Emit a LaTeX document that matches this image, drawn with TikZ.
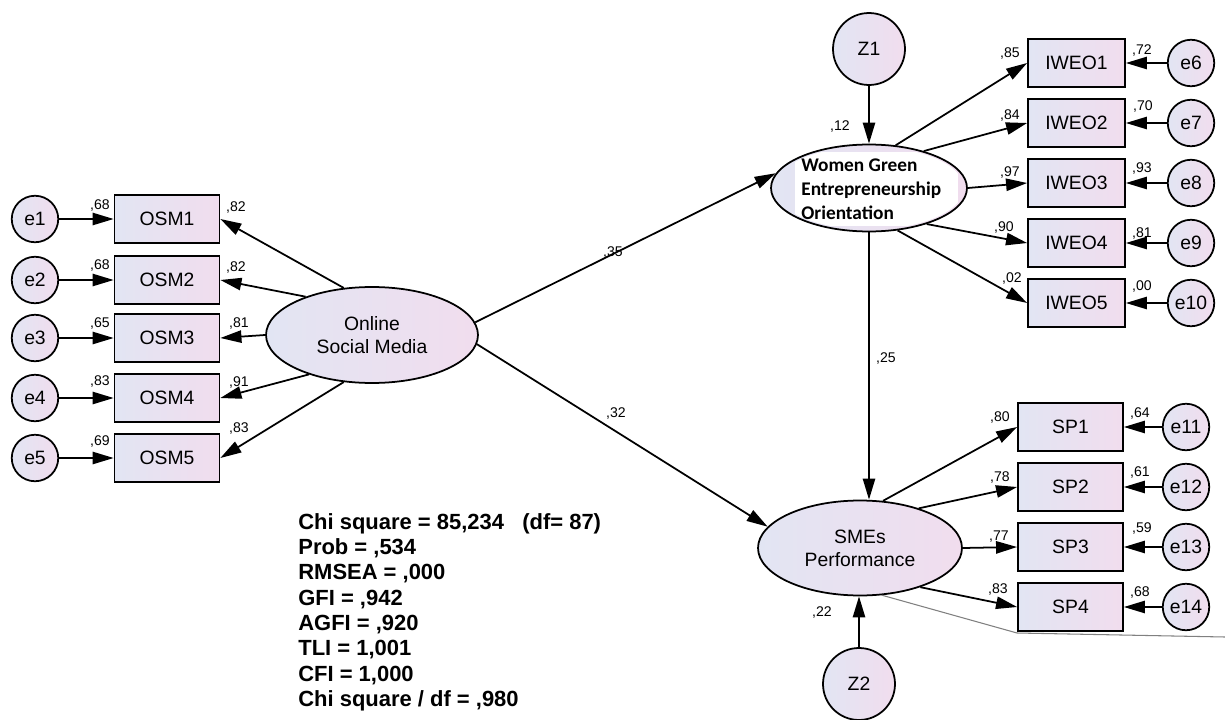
\documentclass[tikz,border=0pt]{standalone}
\usepackage{fontspec}
\setmainfont{Liberation Sans}
\newfontfamily\calib{Carlito}
\usetikzlibrary{shapes.geometric,arrows.meta}
\definecolor{fa}{RGB}{226,229,243}
\definecolor{fb}{RGB}{241,221,238}
\begin{document}
\begin{tikzpicture}[x=0.02cm,y=-0.02cm,
  base/.style={draw=black,line width=1pt,left color=fa,right color=fb,font=\fontsize{11}{13}\selectfont,inner sep=0pt,align=center},
  obs/.style={base,rectangle,minimum width=2.1cm,minimum height=0.95cm},
  iobs/.style={obs,minimum width=1.94cm},
  err/.style={base,circle,minimum size=0.93cm},
  dist/.style={base,circle,minimum size=1.44cm},
  lat/.style={base,ellipse},
  coef/.style={font=\fontsize{8}{9}\selectfont,inner sep=0pt},
  arr/.style={line width=1pt,-{Triangle[length=12pt,width=7pt]}},
]
\useasboundingbox (0,0) rectangle (1225,720);
\fill[white] (0,0) rectangle (1225,720);

% left block
\foreach \i/\y in {1/219,2/280,3/338,4/398,5/458}{
  \node[err] (e\i) at (35,\y) {e\i};
  \node[obs] (o\i) at (167,\y) {OSM\i};
}
\node[lat,minimum width=4.24cm,minimum height=1.92cm] (osm) at (372,335) {Online\\Social Media};

% WGEO
\node[lat,minimum width=3.92cm,minimum height=1.74cm] (wgeo) at (869,188) {};
\begin{scope}
  \clip (869,188) ellipse [x radius=1.9cm, y radius=0.83cm];
  \fill[white] (795,152) rectangle (958,226);
\end{scope}
\node[anchor=west,align=left,inner sep=0pt,font=\calib\bfseries\fontsize{11}{13.6}\selectfont] (wgeot) at (801,189) {Women Green\\Entrepreneurship\\Orientation};
\node[dist] (z1) at (869,49) {Z1};

\foreach \i/\y in {1/63,2/123,3/183,4/243,5/303}{
  \node[iobs] (w\i) at (1076.5,\y) {IWEO\i};
}
\node[err] (e6) at (1191,63) {e6};
\node[err] (e7) at (1191,123) {e7};
\node[err] (e8) at (1191,183) {e8};
\node[err] (e9) at (1191,243) {e9};
\node[err] (e10) at (1191,303) {e10};

% SMEs
\node[lat,minimum width=4.08cm,minimum height=1.9cm] (smes) at (860,548) {SMEs\\Performance};
\node[dist] (z2) at (859,684) {Z2};
\foreach \i/\y in {1/427,2/487,3/547,4/607}{
  \node[obs,minimum height=0.96cm] (s\i) at (1070.5,\y) {SP\i};
}
\node[err] (e11) at (1186,427) {e11};
\node[err] (e12) at (1186,487) {e12};
\node[err] (e13) at (1186,547) {e13};
\node[err] (e14) at (1186,607) {e14};

% connectors
\foreach \i in {1,...,5}{ \draw[arr] (e\i) -- (o\i); }
\draw[arr] (osm.121) -- (o1.east);
\draw[arr] (osm.150) -- (o2.east);
\draw[arr] (osm.west) -- (o3.east);
\draw[arr] (osm.212) -- (o4.east);
\draw[arr] (osm.239) -- (o5.east);
\draw[arr] (osm.7) -- (wgeo.171);
\draw[arr] (osm.-5) -- (smes.167);
\draw[arr] (z1) -- (wgeo);
\draw[arr] (wgeo.south) -- (wgeo.south |- smes.north);
\draw[arr] (z2.north) -- (z2.north |- smes.south);
\draw[arr] (wgeo.58) -- (w1.west);
\draw[arr] (wgeo.34) -- (w2.west);
\draw[arr] (wgeo.east) -- (w3.west);
\draw[arr] (wgeo.-32) -- (w4.west);
\draw[arr] (wgeo.-56) -- (w5.west);
\draw[arr] (e6) -- (w1.east);
\draw[arr] (e7) -- (w2.east);
\draw[arr] (e8) -- (w3.east);
\draw[arr] (e9) -- (w4.east);
\draw[arr] (e10) -- (w5.east);
\draw[arr] (smes.64) -- (s1.west);
\draw[arr] (smes.34) -- (s2.west);
\draw[arr] (smes.east) -- (s3.west);
\draw[arr] (smes.-33) -- (s4.west);
\draw[arr] (e11) -- (s1.east);
\draw[arr] (e12) -- (s2.east);
\draw[arr] (e13) -- (s3.east);
\draw[arr] (e14) -- (s4.east);

% thin gray line
\coordinate (g1) at (1017,633);
\coordinate (g2) at (1225,637);
\draw[gray,line width=0.6pt] (smes.-65) -- (g1) -- (g2);

% coefficients
\node[coef] (c1) at (100,205) {,68};
\node[coef] (c2) at (100,265) {,68};
\node[coef] (c3) at (100,323) {,65};
\node[coef] (c4) at (100,381) {,83};
\node[coef] (c5) at (100,441) {,69};
\node[coef] (c6) at (236,207) {,82};
\node[coef] (c7) at (236,267) {,82};
\node[coef] (c8) at (239,323) {,81};
\node[coef] (c9) at (239,382) {,91};
\node[coef] (c10) at (239,428) {,83};
\node[coef] (c11) at (613,252) {,35};
\node[coef] (c12) at (616,413) {,32};
\node[coef] (c13) at (886,358) {,25};
\node[coef] (c14) at (840,126) {,12};
\node[coef] (c15) at (822,612) {,22};
\node[coef] (c16) at (1010,53) {,85};
\node[coef] (c17) at (1010,115) {,84};
\node[coef] (c18) at (1010,172) {,97};
\node[coef] (c19) at (1004,227) {,90};
\node[coef] (c20) at (1012,278) {,02};
\node[coef] (c21) at (1142,50) {,72};
\node[coef] (c22) at (1143,106) {,70};
\node[coef] (c23) at (1142,168) {,93};
\node[coef] (c24) at (1142,233) {,81};
\node[coef] (c25) at (1142,286) {,00};
\node[coef] (c26) at (1000,417) {,80};
\node[coef] (c27) at (1000,477) {,78};
\node[coef] (c28) at (999,537) {,77};
\node[coef] (c29) at (998,589) {,83};
\node[coef] (c30) at (1140,413) {,64};
\node[coef] (c31) at (1140,472) {,61};
\node[coef] (c32) at (1142,528) {,59};
\node[coef] (c33) at (1140,592) {,68};

% fit statistics
\node[anchor=north west,align=left,inner sep=0pt,font=\bfseries\fontsize{12.5}{14.4}\selectfont] (fit) at (298,513) {Chi square = 85,234\ \ \ (df= 87)\\Prob = ,534\\RMSEA = ,000\\GFI = ,942\\AGFI = ,920\\TLI = 1,001\\CFI = 1,000\\Chi square / df = ,980};
\end{tikzpicture}
\end{document}
